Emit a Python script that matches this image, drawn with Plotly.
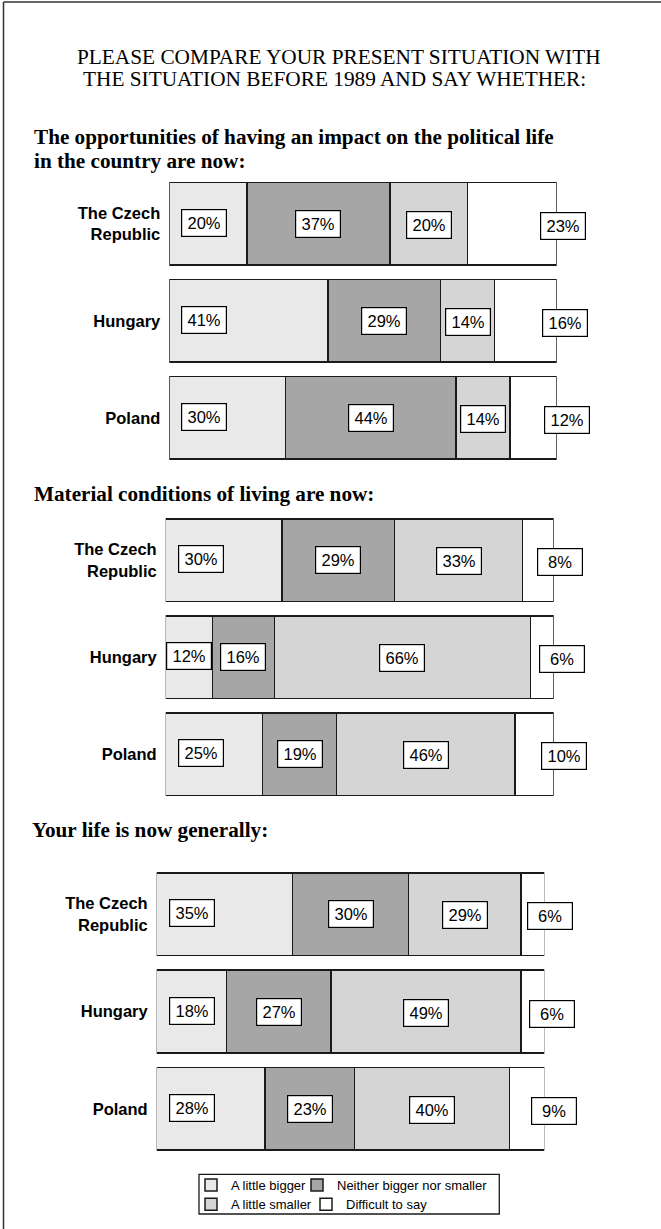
import plotly.graph_objects as go

W, H = 661, 1229

# ---------------- data ----------------
countries = ["The Czech Republic", "Hungary", "Poland"]
country_ticks = ["The Czech<br>Republic", "Hungary", "Poland"]
series_names = ["A little bigger", "Neither bigger nor smaller",
                "A little smaller", "Difficult to say"]

political_bigger = [20, 41, 30]
political_neither = [37, 29, 44]
political_smaller = [20, 14, 14]
political_difficult = [23, 16, 12]

material_bigger = [30, 12, 25]
material_neither = [29, 16, 19]
material_smaller = [33, 66, 46]
material_difficult = [8, 6, 10]

life_bigger = [35, 18, 28]
life_neither = [30, 27, 23]
life_smaller = [29, 49, 40]
life_difficult = [6, 6, 9]

main_title = ["PLEASE COMPARE YOUR PRESENT SITUATION WITH",
              "THE SITUATION BEFORE 1989 AND SAY WHETHER:"]
panel_titles = [
    ["The opportunities of having an impact on the political life",
     "in the country are now:"],
    ["Material conditions of living are now:"],
    ["Your life is now generally:"],
]

panels = [
    [political_bigger, political_neither, political_smaller, political_difficult],
    [material_bigger, material_neither, material_smaller, material_difficult],
    [life_bigger, life_neither, life_smaller, life_difficult],
]

# ---------------- style ----------------
colors = ["#E9E9E9", "#A6A6A6", "#D5D5D5", "#FFFFFF"]
edge = "#1a1a1a"
sans = "Liberation Sans, Arial, sans-serif"
serif = "Liberation Serif, Times New Roman, serif"

# pixel layout of each panel (left, right), (top, bottom)
panel_x = [(169.3, 556.7), (165.7, 553.7), (156.7, 544.3)]
panel_y = [(175.4, 466.5), (511.9, 803.0), (865.8, 1157.3)]
title_pos = [[(31.5, 137.4), (31.5, 160.6)], [(31.5, 494.0)], [(29.5, 830.3)]]
main_title_pos = [(339, 57.0), (335, 78.5)]
first_cap = 9.0          # max data offset for first label
last_shift = [6, 8, 10]  # px shift of the last label per row
seg_yshift = [1, 0, -1, -2]
# legend entries: (legend left px, row centre px)
legend_names = ["legend", "legend2", "legend3", "legend4"]
legend_pos = [(191, 1185), (297, 1185), (191, 1204.3), (306, 1204.3)]


def px_x(p):
    return p / W


def px_y(p):
    return 1 - p / H


fig = go.Figure()
annotations = []

for pi, series in enumerate(panels):
    sfx = "" if pi == 0 else str(pi + 1)
    for si, vals in enumerate(series):
        fig.add_trace(go.Bar(
            orientation="h", x=vals, y=countries,
            xaxis="x" + sfx, yaxis="y" + sfx,
            name=series_names[si],
            marker=dict(color=colors[si], line=dict(color=edge, width=1.5)),
            width=0.85,
            showlegend=(pi == 0),
            legend=legend_names[si],
            hoverinfo="skip",
        ))
    # value labels
    for ci, c in enumerate(countries):
        cum = 0
        n = len(series)
        for si in range(n):
            v = series[si][ci]
            if si == 0:
                xpos = min(v / 2, first_cap)
                xs = 0
            elif si == n - 1:
                xpos = cum + v
                xs = last_shift[ci]
            else:
                xpos = cum + v / 2
                xs = 0
            cum += v
            annotations.append(dict(
                x=xpos, y=c, xref="x" + sfx, yref="y" + sfx,
                text=f"{v}%", showarrow=False,
                font=dict(family=sans, size=16.5, color="black"),
                bgcolor="white", bordercolor="black", borderwidth=1.2,
                borderpad=4, width=36, height=18,
                xshift=xs, yshift=seg_yshift[si],
            ))
    # panel titles
    for (tx, ty), line in zip(title_pos[pi], panel_titles[pi]):
        annotations.append(dict(
            x=px_x(tx), y=px_y(ty), xref="paper", yref="paper",
            xanchor="left", yanchor="middle", showarrow=False,
            text=f"<b>{line}</b>",
            font=dict(family=serif, size=21.2, color="black"),
        ))

for (tx, ty), line in zip(main_title_pos, main_title):
    annotations.append(dict(
        x=px_x(tx), y=px_y(ty), xref="paper", yref="paper",
        xanchor="center", yanchor="middle", showarrow=False,
        text=line, font=dict(family=serif, size=21.3, color="black"),
    ))

layout = dict(
    width=W, height=H,
    margin=dict(l=0, r=0, t=0, b=0),
    paper_bgcolor="white", plot_bgcolor="white",
    barmode="stack",
    annotations=annotations,
    showlegend=True,
)

for pi in range(3):
    sfx = "" if pi == 0 else str(pi + 1)
    (xl, xr), (yt, yb) = panel_x[pi], panel_y[pi]
    layout["xaxis" + sfx] = dict(
        domain=[px_x(xl), px_x(xr)], range=[0, 100], visible=False,
        anchor="y" + sfx, fixedrange=True)
    layout["yaxis" + sfx] = dict(
        domain=[px_y(yb), px_y(yt)], anchor="x" + sfx,
        type="category", categoryarray=countries, range=[2.5, -0.5],
        tickvals=countries, ticktext=country_ticks,
        tickfont=dict(family=sans, size=16.5, color="black", weight="bold"),
        ticks="", ticklabelstandoff=8,
        showgrid=False, zeroline=False, showline=False, fixedrange=True)

for name, (lx, ly) in zip(legend_names, legend_pos):
    layout[name] = dict(
        orientation="h", xanchor="left", yanchor="middle",
        x=px_x(lx), y=px_y(ly),
        font=dict(family=sans, size=13, color="black"),
        bgcolor="rgba(0,0,0,0)", borderwidth=0,
    )

layout["shapes"] = [
    dict(type="rect", xref="paper", yref="paper",
         x0=px_x(199), x1=px_x(499.3), y0=px_y(1214), y1=px_y(1174.3),
         line=dict(color=edge, width=1.3)),
    dict(type="line", xref="paper", yref="paper",
         x0=px_x(3.5), x1=px_x(3.5), y0=px_y(2), y1=0,
         line=dict(color="#333333", width=1.5)),
    dict(type="line", xref="paper", yref="paper",
         x0=px_x(3.5), x1=1, y0=px_y(2), y1=px_y(2),
         line=dict(color="#333333", width=1.5)),
]

fig.update_layout(**layout)
fig.write_html(
    "out.html",
    config={"displayModeBar": False},
    post_script="document.body.style.margin='0';"
                "document.body.style.overflow='hidden';",
)
